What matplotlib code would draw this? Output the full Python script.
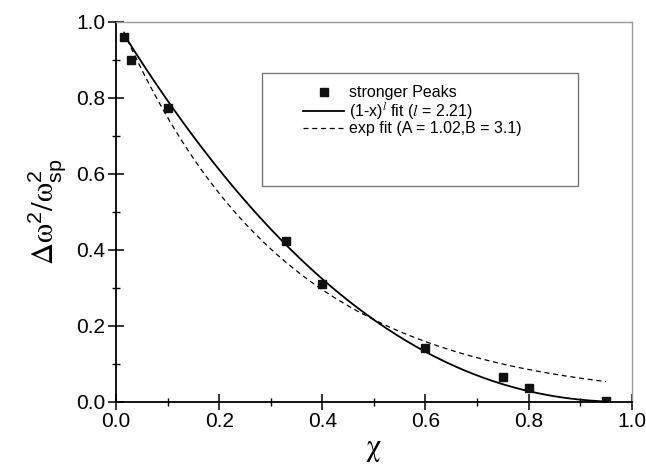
import numpy as np
import matplotlib.pyplot as plt
from matplotlib.patches import Rectangle
from matplotlib.ticker import MultipleLocator

plt.rcParams['font.family'] = ['Liberation Sans', 'DejaVu Sans']
plt.rcParams['mathtext.fontset'] = 'stix'

# measured points
chi = [0.015, 0.03, 0.10, 0.33, 0.40, 0.60, 0.75, 0.80, 0.95]
dw = [0.96, 0.90, 0.773, 0.423, 0.31, 0.141, 0.067, 0.036, 0.003]

# fit parameters from the legend
l_exp = 2.21
A, B = 1.02, 3.1

xf = np.linspace(chi[0], chi[-1], 300)
pow_fit = (1 - xf) ** l_exp
exp_fit = A * np.exp(-B * xf)

fig = plt.figure(figsize=(6.46, 4.71), dpi=100)
ax = fig.add_axes([0.1796, 0.1465, 0.7984, 0.8075])

ln_p, = ax.plot(xf, pow_fit, color='black', lw=1.3)
ln_e, = ax.plot(xf, exp_fit, color='black', lw=0.9, dashes=(4, 3))
pts, = ax.plot(chi, dw, 's', color='#111111', ms=5.5, ls='none')

ax.set_xlim(0, 1)
ax.set_ylim(0, 1)
ax.xaxis.set_major_locator(MultipleLocator(0.2))
ax.xaxis.set_minor_locator(MultipleLocator(0.1))
ax.yaxis.set_major_locator(MultipleLocator(0.2))
ax.yaxis.set_minor_locator(MultipleLocator(0.1))
ax.tick_params(which='major', direction='inout', length=11, width=1.1,
               labelsize=15, top=False, right=False, pad=2)
ax.tick_params(which='minor', direction='inout', length=6, width=1.0,
               top=False, right=False)
for s in ['left', 'bottom']:
    ax.spines[s].set_linewidth(1.3)
for s in ['top', 'right']:
    ax.spines[s].set_color('#9a9a9a')
    ax.spines[s].set_linewidth(1.0)

ax.set_xlabel(r'$\mathrm{\chi}$', fontsize=22, labelpad=2)
ax.set_ylabel(r'$\Delta\mathrm{\omega}^{\mathregular{2}}/\mathrm{\omega}^{\mathregular{2}}_{\mathregular{sp}}$',
              fontsize=22, labelpad=6)

# legend box (larger than its entries, as in the original)
ax.add_patch(Rectangle((0.283, 0.568), 0.612, 0.297, transform=ax.transAxes,
                       fill=False, edgecolor='#777777', lw=1.0, zorder=3))
leg = ax.legend([pts, ln_p, ln_e],
                ['stronger Peaks',
                 r'(1-x)$^{\mathit{l}}$ fit ($\mathit{l}$ = 2.21)',
                 'exp fit (A = 1.02,B = 3.1)'],
                loc='upper left', bbox_to_anchor=(0.35, 0.85),
                frameon=False, fontsize=11.5, handlelength=2.6,
                handletextpad=0.3, labelspacing=0.0, borderaxespad=0)

fig.savefig('out.png', dpi=100)
